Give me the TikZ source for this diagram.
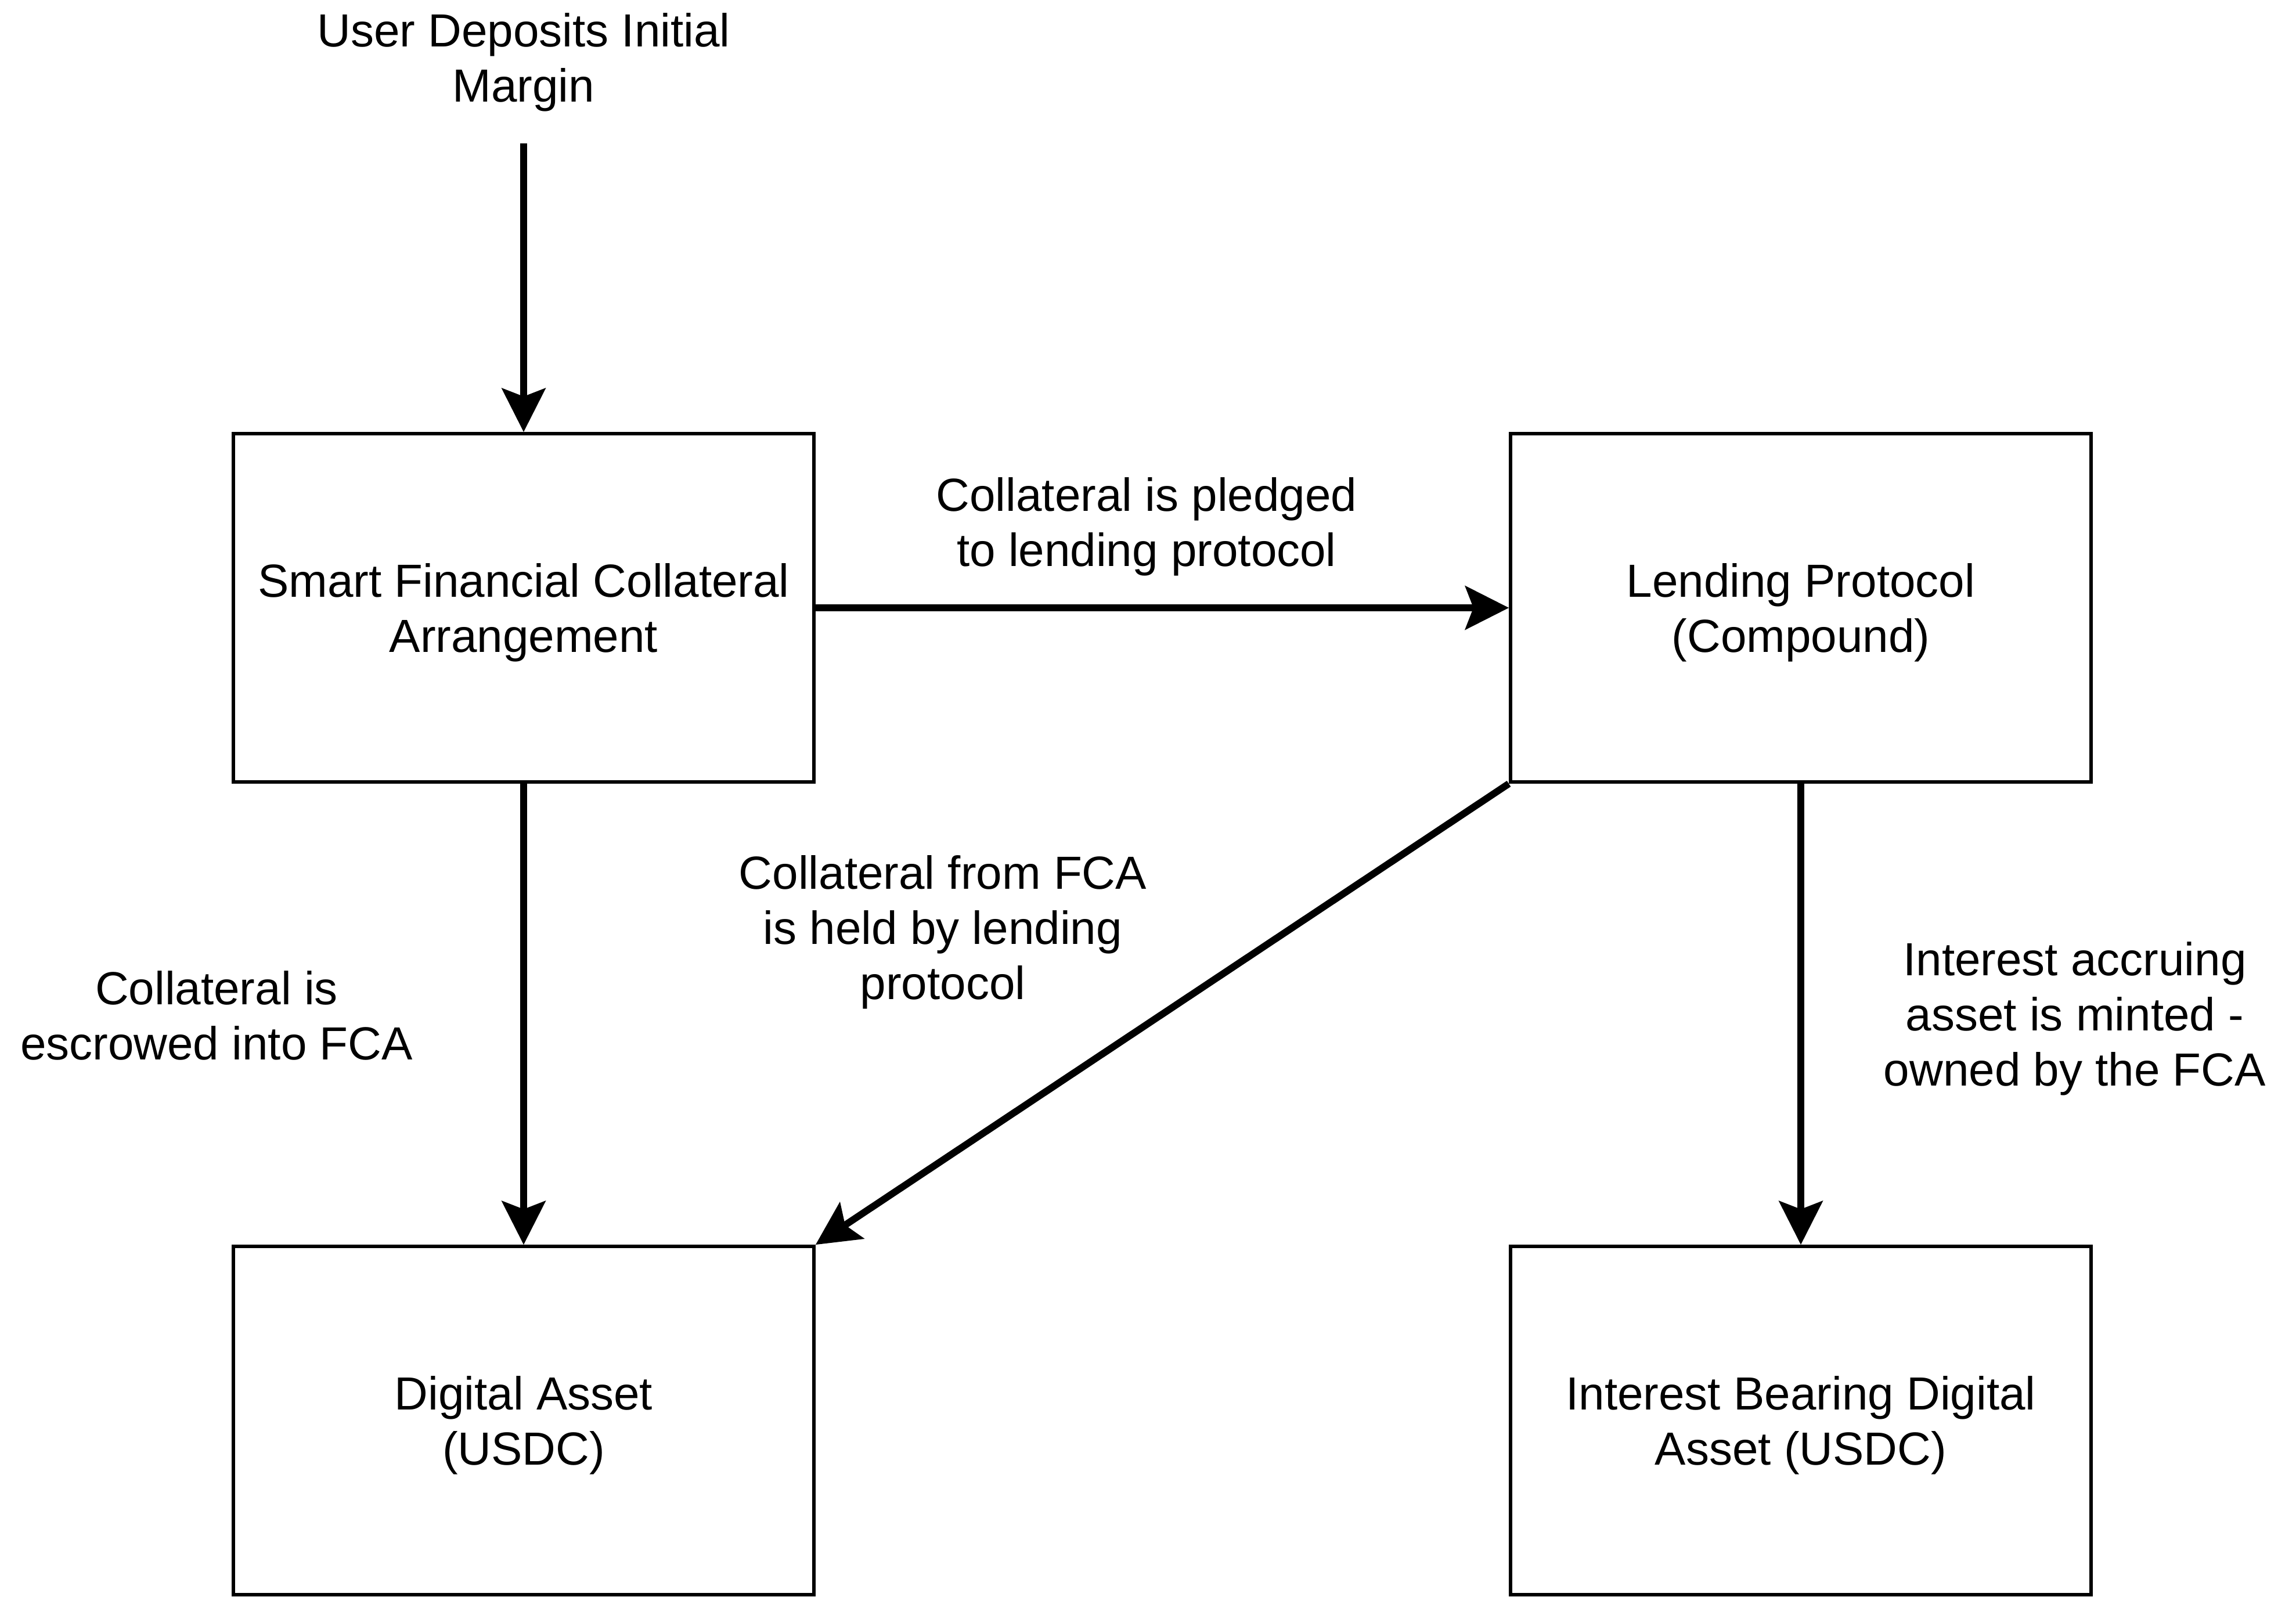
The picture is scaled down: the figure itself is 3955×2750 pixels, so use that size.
\documentclass[tikz,border=0pt]{standalone}
\usepackage{fontspec}
\setmainfont{Liberation Sans}
\usetikzlibrary{arrows.meta}
\tikzset{
  box/.style={draw=black, line width=6pt, minimum width=1000pt, minimum height=600pt, align=center, inner sep=0pt, text depth=0pt},
  lbl/.style={align=center, inner sep=0pt},
  conn/.style={line width=12pt, -{Stealth[length=76pt, width=77pt, inset=15pt, line width=0pt]}},
}
\begin{document}
\begin{tikzpicture}[x=1pt, y=-1pt, font=\fontsize{80pt}{95pt}\selectfont]
\useasboundingbox (0,0) rectangle (3955,2750);
\node[box] (sfca) at (902,1047) {Smart Financial Collateral\\Arrangement};
\node[box] (lp) at (3102,1047) {Lending Protocol\\(Compound)};
\node[box] (da) at (902,2447) {Digital Asset\\(USDC)};
\node[box] (ib) at (3102,2447) {Interest Bearing Digital\\Asset (USDC)};
\node[lbl] (user) at (902,107) {User Deposits Initial\\Margin};
\coordinate (ustart) at (902,247);
\node[lbl] (l1) at (1975,907) {Collateral is pledged\\to lending protocol};
\node[lbl] (l2) at (1624,1606) {Collateral from FCA\\is held by lending\\protocol};
\node[lbl] (l3) at (373,1749) {Collateral is\\escrowed into FCA};
\node[lbl] (l4) at (3574,1755) {Interest accruing\\asset is minted -\\owned by the FCA};
\draw[conn] (ustart) -- (sfca.north);
\draw[conn] (sfca.east) -- (lp.west);
\draw[conn] (sfca.south) -- (da.north);
\draw[conn] (lp.south) -- (ib.north);
\draw[conn] (lp.south west) -- (da.north east);
\end{tikzpicture}
\end{document}
